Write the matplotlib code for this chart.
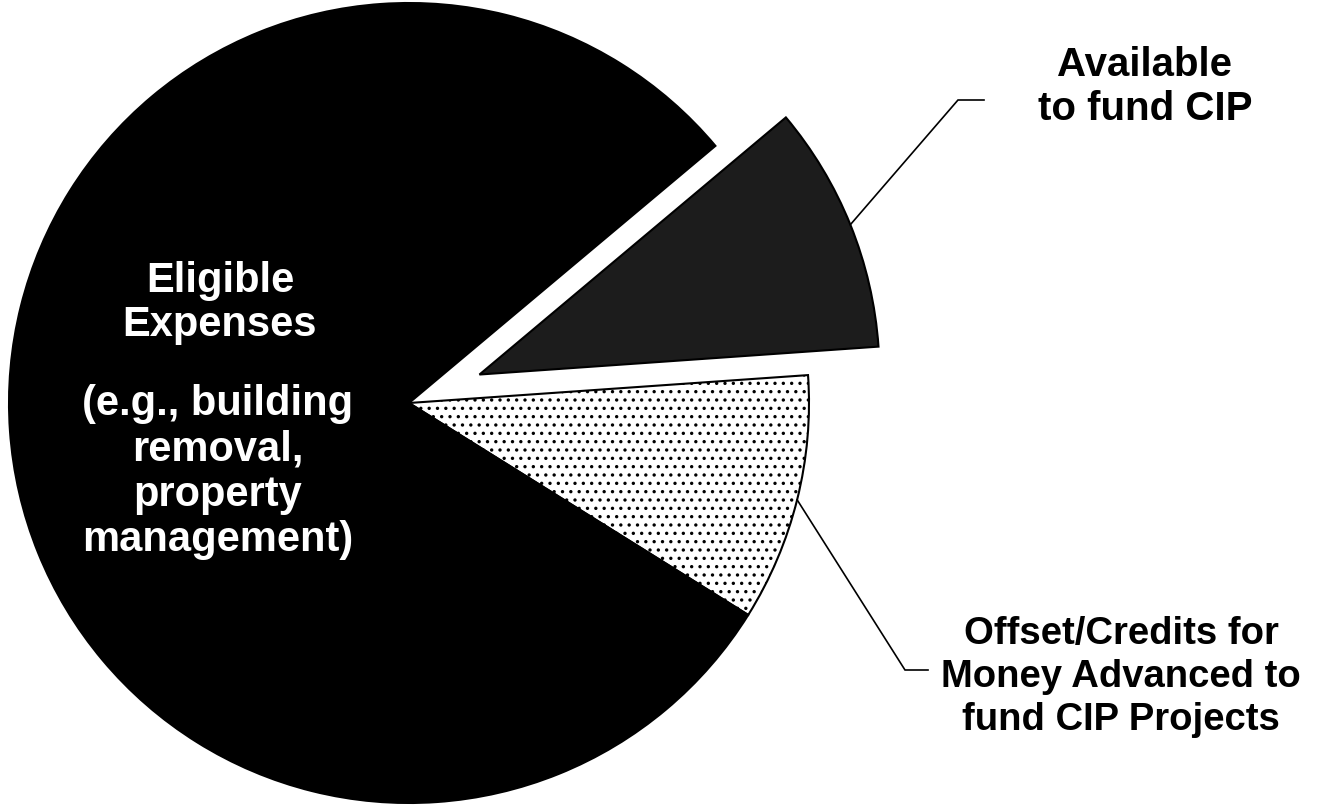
import numpy as np
import matplotlib
matplotlib.use('Agg')
import matplotlib.pyplot as plt

# slices, counter-clockwise starting at the lower right
labels = ['Offset/Credits for\nMoney Advanced to\nfund CIP Projects',
          'Available\nto fund CIP',
          'Eligible Expenses']
shares = [10, 10, 80]

W, H = 1341, 806
plt.rcParams['hatch.linewidth'] = 1.2

fig = plt.figure(figsize=(W/100, H/100), dpi=100)
ax = fig.add_axes([0, 0, 1, 1])

cx, cy, r = 409, H - 403, 400
# explode is in data units here since the pie is drawn in pixel space
explode = [0, 0.19 * r, 0]
wedges, _ = ax.pie(shares, explode=explode, startangle=-32, counterclock=True,
                   center=(cx, cy), radius=r, frame=True,
                   colors=['white', '#1c1c1c', 'black'],
                   wedgeprops=dict(edgecolor='black', linewidth=1.5))
ax.set_xlim(0, W)
ax.set_ylim(0, H)
ax.set_aspect('equal')
ax.axis('off')

wedges[0].set_hatch('..')

font = 'Liberation Sans'

def leader(w, elbow, end):
    # start the line at the middle of the wedge's arc
    ang = np.deg2rad((w.theta1 + w.theta2) / 2)
    x0 = w.center[0] + w.r * np.cos(ang)
    y0 = w.center[1] + w.r * np.sin(ang)
    ax.plot([x0, elbow[0], end[0]], [y0, elbow[1], end[1]],
            color='black', lw=1.2, solid_joinstyle='miter')

leader(wedges[1], (958, H - 100), (984, H - 100))
leader(wedges[0], (905, H - 670), (928, H - 670))

ax.text(1145, H - 87, labels[1], ha='center', va='center', fontsize=29,
        fontweight='bold', family=font, linespacing=1.2)
ax.text(1121, H - 677, labels[0], ha='center', va='center', fontsize=27.5,
        fontweight='bold', family=font, linespacing=1.25)

ax.text(220, H - 303, 'Eligible\nExpenses', ha='center', va='center',
        fontsize=30, fontweight='bold', family=font, color='white',
        linespacing=1.15)
ax.text(218, H - 472, '(e.g., building\nremoval,\nproperty\nmanagement)',
        ha='center', va='center', fontsize=30, fontweight='bold', family=font,
        color='white', linespacing=1.17)

fig.savefig('out.png', dpi=100)
